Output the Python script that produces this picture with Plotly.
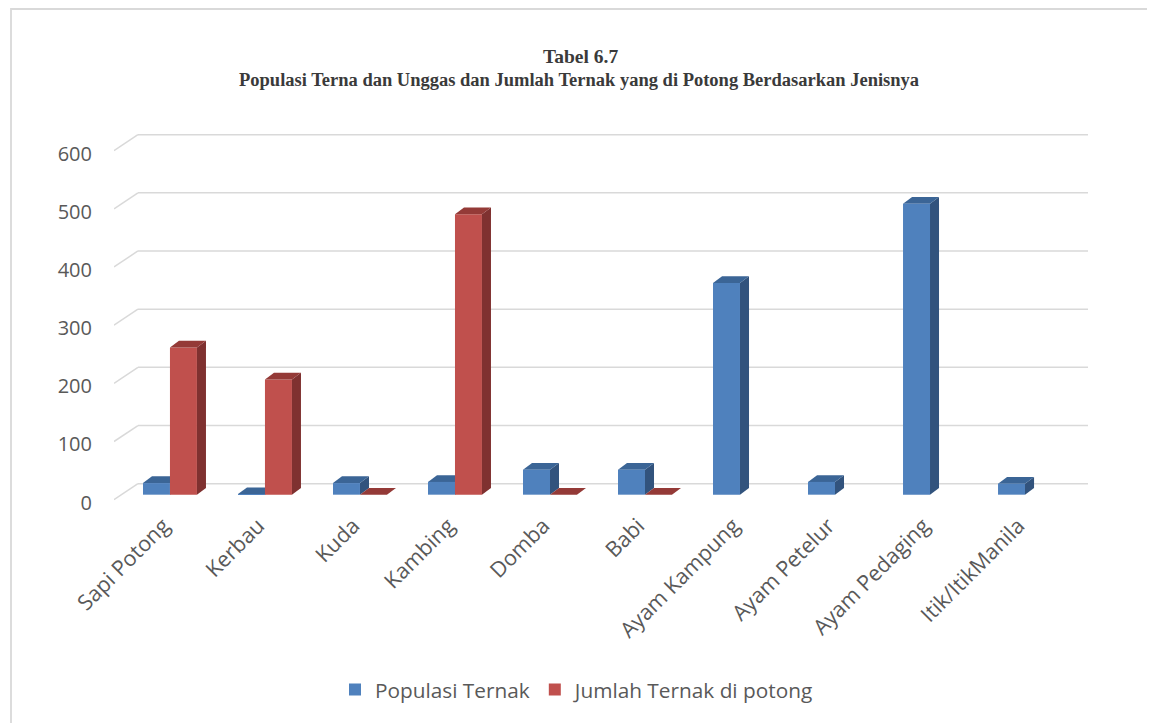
import plotly.graph_objects as go

categories = ["Sapi Potong", "Kerbau", "Kuda", "Kambing", "Domba", "Babi",
              "Ayam Kampung", "Ayam Petelur", "Ayam Pedaging", "Itik/ItikManila"]
populasi = [20, 1, 20, 22, 43, 43, 364, 22, 500, 19]
dipotong = [253, 198, 0, 482, 0, 0, None, None, None, None]
y_ticks = [0, 100, 200, 300, 400, 500, 600]

series_names = ["Populasi Ternak", "Jumlah Ternak di potong"]
front_col = ["#4f81bd", "#c0504d"]
side_col = ["#32537d", "#7f3130"]
top_col = ["#3b6596", "#943a37"]

BW = 0.284               # bar width in category units
DDX, DDY = 0.095, 11.5   # bar depth offset
BDX, BDY = 0.163, 18.9   # back wall offset
FDX, FDY = -0.089, -8.6  # front edge offset
GRID = "#d9d9d9"
TXT = "#595959"

Y_MIN, Y_MAX = -16, 620
K = 367 / 630            # px per value unit
Y0_PAGE = 495            # page pixel of value 0

# page body adds an 8px offset; work in figure pixels
OFF = 8
W, H = 1155 - OFF, 723 - OFF
L = 114 - OFF
T = round(Y0_PAGE - Y_MAX * K) - OFF
R = W - (1088 - OFF)
B = H - (round(Y0_PAGE - Y_MIN * K) - OFF)
pw, ph = W - L - R, H - T - B


def px_x(p):
    return (p - OFF - L) / pw


def px_y(p):
    return (H - B - (p - OFF)) / ph


fig = go.Figure()
shapes_below = []
shapes_above = []

# outer border
shapes_below.append(dict(type="rect", xref="paper", yref="paper",
                         x0=px_x(11), x1=px_x(1148), y0=px_y(760), y1=px_y(9),
                         line=dict(color=GRID, width=1.8), layer="below"))

# gridlines (back wall + left diagonal)
for v in y_ticks:
    shapes_below.append(dict(type="line", xref="x", yref="y",
                             x0=-0.5 + BDX, x1=9.5 + BDX, y0=v + BDY, y1=v + BDY,
                             line=dict(color=GRID, width=1.5), layer="below"))
    shapes_below.append(dict(type="line", xref="x", yref="y",
                             x0=-0.5 + FDX, x1=-0.5 + BDX, y0=v + FDY, y1=v + BDY,
                             line=dict(color=GRID, width=1.5), layer="below"))


def faces(x0, v, s, layer):
    x1 = x0 + BW
    top = (f"M {x0},{v} L {x1},{v} L {x1 + DDX},{v + DDY} "
           f"L {x0 + DDX},{v + DDY} Z")
    side = (f"M {x1},0 L {x1},{v} L {x1 + DDX},{v + DDY} "
            f"L {x1 + DDX},{DDY} Z")
    out = []
    if v > 0:
        out.append(dict(type="path", xref="x", yref="y", path=side,
                        fillcolor=side_col[s], line=dict(width=0), layer=layer))
    out.append(dict(type="path", xref="x", yref="y", path=top,
                    fillcolor=top_col[s], line=dict(width=0), layer=layer))
    return out


for i, v in enumerate(populasi):
    if v is not None:
        shapes_below += faces(i - BW, v, 0, "below")
for i, v in enumerate(dipotong):
    if v is not None:
        shapes_above += faces(i, v, 1, "above")

xs = list(range(len(categories)))
fig.add_trace(go.Bar(x=xs, y=populasi, name=series_names[0], offset=-BW, width=BW,
                     marker=dict(color=front_col[0], line=dict(width=0))))
fig.add_trace(go.Bar(x=xs, y=dipotong, name=series_names[1], offset=0, width=BW,
                     marker=dict(color=front_col[1], line=dict(width=0))))

fig.update_layout(
    width=W, height=H,
    margin=dict(l=L, r=R, t=T, b=B),
    paper_bgcolor="white", plot_bgcolor="white",
    barmode="overlay",
    shapes=shapes_below + shapes_above,
    showlegend=True,
    legend=dict(orientation="h", xref="container", yref="container",
                x=(335 - OFF) / W, xanchor="left", y=1 - (690 - OFF) / H, yanchor="middle",
                font=dict(family="Open Sans", size=20.8, color=TXT),
                itemwidth=30),
    font=dict(family="Open Sans", color=TXT),
    annotations=[
        dict(text="<b>Tabel 6.7</b>", xref="paper", yref="paper",
             x=px_x(580), y=px_y(44), showarrow=False,
             font=dict(family="Liberation Serif", size=19.5, color="#3a3a3a")),
        dict(text="<b>Populasi Terna dan Unggas dan Jumlah Ternak yang di Potong Berdasarkan Jenisnya</b>",
             xref="paper", yref="paper", x=px_x(579), y=px_y(68), showarrow=False,
             font=dict(family="Liberation Serif", size=18.5, color="#3a3a3a")),
    ],
)

fig.update_xaxes(range=[-0.5 + FDX, 9.5 + BDX], tickvals=[x - 0.07 for x in xs],
                 ticktext=categories, tickangle=-45, showgrid=False, zeroline=False,
                 showline=False, ticks="", ticklabelstandoff=4,
                 tickfont=dict(family="Open Sans", size=21.5, color=TXT))
fig.update_yaxes(range=[Y_MIN, Y_MAX], tickvals=[v + FDY - 5 for v in y_ticks],
                 ticktext=[str(v) for v in y_ticks], showgrid=False, zeroline=False,
                 showline=False, ticklabelstandoff=21,
                 tickfont=dict(family="Open Sans", size=20, color=TXT))

fig.write_html("out.html")
